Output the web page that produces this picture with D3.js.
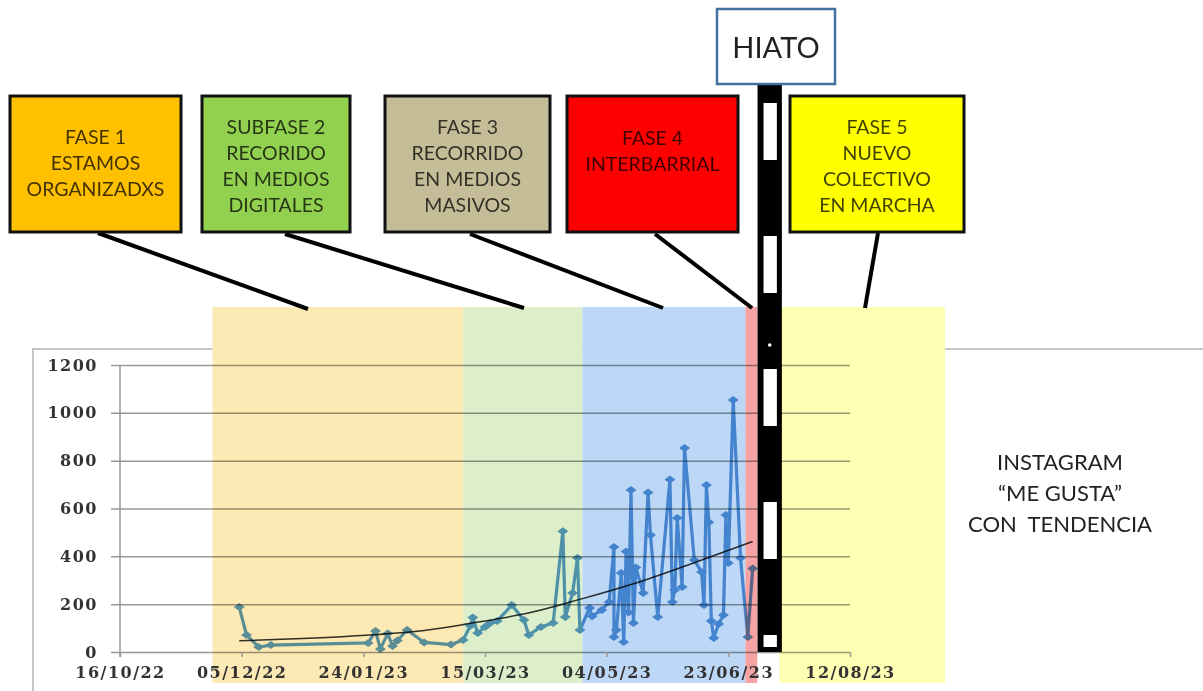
<!DOCTYPE html>
<html>
<head>
<meta charset="utf-8">
<script src="https://cdn.jsdelivr.net/npm/d3@7"></script>
<style>
  body { margin: 0; background: #fff; }
  svg { display: block; }
</style>
</head>
<body>
<script>
var width = 1203, height = 691;

// "me gusta" per post
var likeDates = [
  "2022-12-04","2022-12-07","2022-12-12","2022-12-17","2023-01-26","2023-01-29","2023-01-31",
  "2023-02-03","2023-02-05","2023-02-07","2023-02-11","2023-02-18","2023-03-01","2023-03-06",
  "2023-03-09","2023-03-10","2023-03-12","2023-03-15","2023-03-17","2023-03-20","2023-03-26",
  "2023-03-31","2023-04-02","2023-04-07","2023-04-12","2023-04-16","2023-04-17","2023-04-20",
  "2023-04-22","2023-04-23","2023-04-27","2023-04-28","2023-05-02","2023-05-05","2023-05-07",
  "2023-05-07","2023-05-08","2023-05-10","2023-05-11","2023-05-12","2023-05-13","2023-05-14",
  "2023-05-15","2023-05-16","2023-05-19","2023-05-21","2023-05-22","2023-05-25","2023-05-30",
  "2023-05-31","2023-06-01","2023-06-02","2023-06-04","2023-06-05","2023-06-09","2023-06-12",
  "2023-06-13","2023-06-14","2023-06-15","2023-06-16","2023-06-17","2023-06-19","2023-06-21",
  "2023-06-22","2023-06-23","2023-06-25","2023-06-28","2023-07-01","2023-07-03"
];
var likeValues = [
  188, 71, 21, 29, 38, 88, 13,
  77, 25, 48, 92, 40, 31, 50,
  110, 144, 79, 105, 120, 130, 196,
  134, 71, 105, 121, 505, 146, 247,
  393, 92, 184, 150, 176, 209, 439,
  63, 92, 330, 42, 420, 165, 677,
  121, 353, 247, 667, 489, 146, 721,
  209, 259, 560, 272, 853, 385, 334,
  196, 698, 543, 130, 59, 117, 155,
  573, 372, 1054, 393, 63, 349
];

// trend curve
var trendDates = ["2022-12-04","2022-12-30","2023-01-25","2023-02-18","2023-03-08",
                  "2023-04-04","2023-04-23","2023-05-14","2023-06-07","2023-07-03"];
var trendValues = [47, 56, 70, 90, 118, 168, 220, 282, 366, 462];

var xTickDates = ["2022-10-16","2022-12-05","2023-01-24","2023-03-15","2023-05-04","2023-06-23","2023-08-12"];
var yTicks = [0, 200, 400, 600, 800, 1000, 1200];

// phases shown as background bands
var phaseNames = ["fase1", "fase2", "fase3", "fase4", "hiato", "fase5"];
var phaseStart = ["2022-11-23","2023-03-06","2023-04-24","2023-06-30","2023-07-05","2023-07-14"];
var phaseEnd   = ["2023-03-06","2023-04-24","2023-06-30","2023-07-05","2023-07-15","2023-09-20"];
var bandFill   = ["#fde9b4", "#dcefca", "#bdd7f6", "#f5a3a3", "#ffffff", "#ffffb4"];

var boxLines = [
  ["FASE 1", "ESTAMOS", "ORGANIZADXS"],
  ["SUBFASE 2", "RECORIDO", "EN MEDIOS", "DIGITALES"],
  ["FASE 3", "RECORRIDO", "EN MEDIOS", "MASIVOS"],
  ["FASE 4", "INTERBARRIAL"],
  ["FASE 5", "NUEVO", "COLECTIVO", "EN MARCHA"]
];
var boxFill = ["#ffc000", "#92d050", "#c4bd97", "#ff0000", "#ffff00"];
var sideLines = ["INSTAGRAM", "\u201cME GUSTA\u201d", "CON  TENDENCIA"];

// layout of the callout boxes (x0, x1, first baseline, leader line)
var boxLayout = [
  { x0: 10,  x1: 181, ty: 144, lx1: 98,  ly1: 233, lx2: 308, ly2: 309 },
  { x0: 202, x1: 350, ty: 134, lx1: 285, ly1: 234, lx2: 524, ly2: 308 },
  { x0: 385, x1: 550, ty: 134, lx1: 470, ly1: 234, lx2: 663, ly2: 308 },
  { x0: 567, x1: 738, ty: 145, lx1: 655, ly1: 234, lx2: 752, ly2: 308 },
  { x0: 790, x1: 964, ty: 134, lx1: 878, ly1: 233, lx2: 865, ly2: 308 }
];

var parse = d3.utcParse("%Y-%m-%d");
var fmt = d3.utcFormat("%d/%m/%y");

var likes = likeDates.map(function(d, i){ return { date: parse(d), value: likeValues[i] }; });
var trend = trendDates.map(function(d, i){ return { date: parse(d), value: trendValues[i] }; });
var phases = phaseNames.map(function(n, i){
  return { name: n, start: parse(phaseStart[i]), end: parse(phaseEnd[i]), fill: bandFill[i] };
});

var x = d3.scaleUtc()
    .domain([parse(xTickDates[0]), parse(xTickDates[xTickDates.length - 1])])
    .range([120, 850]);
var y = d3.scaleLinear().domain([0, 1200]).range([652, 365]);

var svg = d3.select("body").append("svg")
    .attr("width", width)
    .attr("height", height);

// chart frame
svg.append("path")
    .attr("d", "M33,691V349H1203")
    .attr("fill", "none")
    .attr("stroke", "#b4b4b4")
    .attr("stroke-width", 1.5);

// phase bands
svg.append("g").selectAll("rect").data(phases).enter().append("rect")
    .attr("x", function(d){ return x(d.start); })
    .attr("width", function(d){ return x(d.end) - x(d.start); })
    .attr("y", 307)
    .attr("height", 376)
    .attr("fill", function(d){ return d.fill; });

// gridlines + y labels
var yAxis = svg.append("g")
    .attr("transform", "translate(111,0)")
    .call(d3.axisLeft(y).tickValues(yTicks).tickFormat(d3.format("d")).tickSize(-739).tickPadding(13));
yAxis.select(".domain").remove();
yAxis.selectAll(".tick line")
    .attr("stroke", "#999")
    .attr("stroke-width", 1.5)
    .style("mix-blend-mode", "multiply");
yAxis.selectAll(".tick text")
    .attr("fill", "#333")
    .style("font", "bold 16px 'DejaVu Serif'")
    .style("letter-spacing", "1.5px");

svg.append("line")
    .attr("x1", 120).attr("x2", 120)
    .attr("y1", y(1200)).attr("y2", 657)
    .attr("stroke", "#999")
    .attr("stroke-width", 1.5);

// x axis
var xAxis = svg.append("g")
    .attr("transform", "translate(0," + y(0) + ")")
    .call(d3.axisBottom(x).tickValues(xTickDates.map(parse)).tickFormat(fmt).tickSize(5).tickPadding(10));
xAxis.select(".domain").remove();
xAxis.selectAll(".tick line").attr("stroke", "#999").attr("stroke-width", 1.5);
xAxis.selectAll(".tick text")
    .attr("fill", "#333")
    .style("font", "bold 16px 'DejaVu Serif'")
    .style("letter-spacing", "1.5px");

// series
var series = svg.append("g").style("mix-blend-mode", "multiply");
var line = d3.line()
    .x(function(d){ return x(d.date); })
    .y(function(d){ return y(d.value); });
series.append("path")
    .datum(likes)
    .attr("d", line)
    .attr("fill", "none")
    .attr("stroke", "#5b9bd5")
    .attr("stroke-width", 3.2)
    .attr("stroke-linejoin", "round");
series.selectAll(".pt").data(likes).enter().append("path")
    .attr("class", "pt")
    .attr("transform", function(d){ return "translate(" + x(d.date) + "," + y(d.value) + ")"; })
    .attr("d", "M-5.5,0L0,-4L5.5,0L0,4Z")
    .attr("fill", "#5b9bd5");

// trend
svg.append("path")
    .datum(trend)
    .attr("d", d3.line()
      .x(function(d){ return x(d.date); })
      .y(function(d){ return y(d.value); })
      .curve(d3.curveMonotoneX))
    .attr("fill", "none")
    .attr("stroke", "#333")
    .attr("stroke-width", 1.5)
    .style("mix-blend-mode", "multiply");

// hiato bar
var hiato = phases[4];
var hx0 = x(hiato.start), hx1 = x(hiato.end);
svg.append("rect")
    .attr("x", hx0).attr("y", 85)
    .attr("width", hx1 - hx0).attr("height", 567)
    .attr("fill", "#000");
svg.append("g").selectAll("rect").data(d3.range(103, 648, 133)).enter().append("rect")
    .attr("x", hx0 + 6)
    .attr("width", hx1 - hx0 - 11)
    .attr("y", function(d){ return d; })
    .attr("height", function(d){ return Math.min(57, 647 - d); })
    .attr("fill", "#fff");
svg.append("circle")
    .attr("cx", (hx0 + hx1) / 2).attr("cy", 345).attr("r", 1.8)
    .attr("fill", "#fff");

// bring x labels on top of the bar
xAxis.raise();

// HIATO box
svg.append("rect")
    .attr("x", 717).attr("y", 9)
    .attr("width", 118).attr("height", 75)
    .attr("fill", "#fff")
    .attr("stroke", "#41719c")
    .attr("stroke-width", 2.5);
svg.append("text")
    .attr("x", 776).attr("y", 58)
    .attr("text-anchor", "middle")
    .style("font", "29px Lato")
    .attr("fill", "#222")
    .text("HIATO");

// callout boxes
var boxes = svg.append("g").selectAll("g").data(boxLines).enter().append("g");
boxes.append("line")
    .attr("x1", function(d, i){ return boxLayout[i].lx1; })
    .attr("y1", function(d, i){ return boxLayout[i].ly1; })
    .attr("x2", function(d, i){ return boxLayout[i].lx2; })
    .attr("y2", function(d, i){ return boxLayout[i].ly2; })
    .attr("stroke", "#000")
    .attr("stroke-width", 4);
boxes.append("rect")
    .attr("x", function(d, i){ return boxLayout[i].x0; })
    .attr("y", 96)
    .attr("width", function(d, i){ return boxLayout[i].x1 - boxLayout[i].x0; })
    .attr("height", 136)
    .attr("fill", function(d, i){ return boxFill[i]; })
    .attr("stroke", "#111")
    .attr("stroke-width", 3);
boxes.each(function(lines, i){
  var b = boxLayout[i];
  d3.select(this).selectAll("text").data(lines).enter().append("text")
      .attr("x", (b.x0 + b.x1) / 2)
      .attr("y", function(d, j){ return b.ty + j * 26; })
      .attr("text-anchor", "middle")
      .attr("fill", "#000")
      .attr("fill-opacity", 0.75)
      .style("font", "19.5px Lato")
      .text(function(d){ return d; });
});

// side note
svg.append("g").selectAll("text").data(sideLines).enter().append("text")
    .attr("x", 1060)
    .attr("y", function(d, i){ return 470 + i * 31; })
    .attr("text-anchor", "middle")
    .attr("fill", "#222")
    .style("font", "22px Lato")
    .style("white-space", "pre")
    .text(function(d){ return d; });
</script>
</body>
</html>
